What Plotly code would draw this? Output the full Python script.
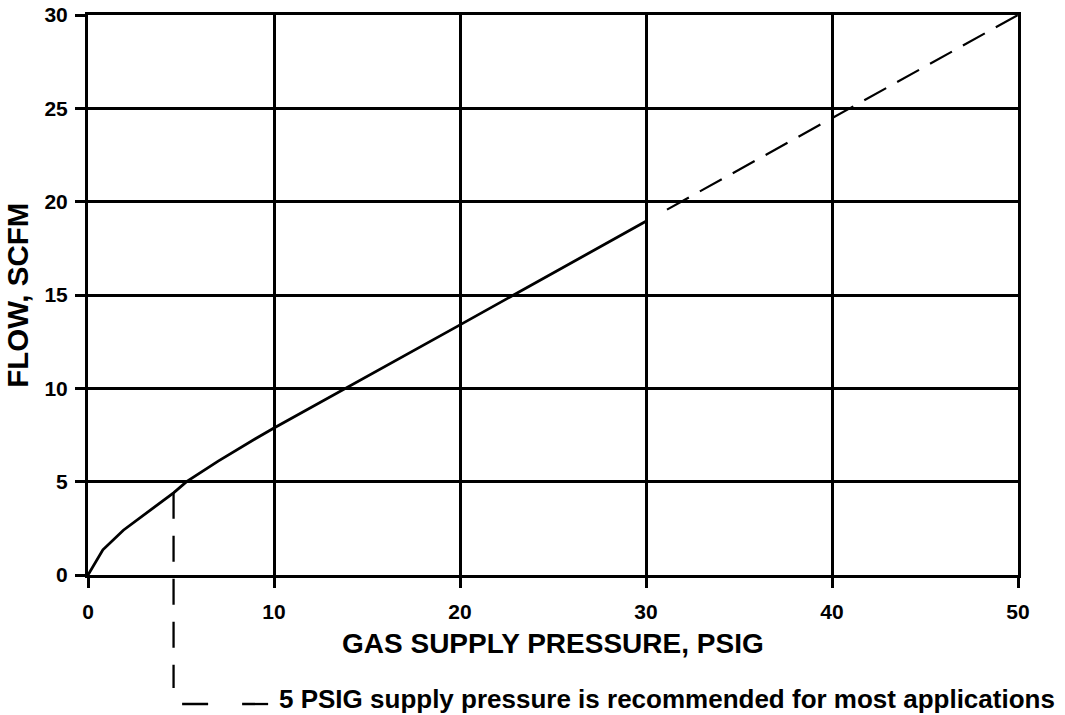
import numpy as np
import plotly.graph_objects as go

# ---- data ----
pressure_solid = [0, 0.8, 1.9, 3.0, 4.6, 5.3, 7.0, 9.0, 10.0, 20.0, 30.0]
flow_solid = [0, 1.35, 2.4, 3.2, 4.4, 5.0, 6.1, 7.3, 7.87, 13.4, 18.95]
pressure_dashed = [30.0, 50.0]
flow_dashed = [18.95, 30.0]
leader_pressure = 4.6  # recommended supply-pressure marker (drawn position)
x_ticks = [0, 10, 20, 30, 40, 50]
y_ticks = [0, 5, 10, 15, 20, 25, 30]
x_title = "GAS SUPPLY PRESSURE, PSIG"
y_title = "FLOW, SCFM"
note_text = "5 PSIG supply pressure is recommended for most applications"

X_RANGE = [0, 50]
Y_RANGE = [0, 30]
FONT = "Liberation Sans, Arial, sans-serif"

# dash style of the extrapolated part: a leading gap, then 11 dashes
ext_dash = "0px,24px," + ",".join(["25px,12.6px"] * 10) + ",25px,200px"

fig = go.Figure()
fig.add_trace(go.Scatter(x=pressure_solid, y=flow_solid, mode="lines",
                         line=dict(color="black", width=2.8), hoverinfo="skip",
                         showlegend=False))
fig.add_trace(go.Scatter(x=pressure_dashed, y=flow_dashed, mode="lines",
                         line=dict(color="black", width=2.2, dash=ext_dash),
                         hoverinfo="skip", showlegend=False))

leader_top = float(np.interp(leader_pressure, pressure_solid, flow_solid))
leader_top_paper = (leader_top - Y_RANGE[0]) / (Y_RANGE[1] - Y_RANGE[0])

shapes = [
    # vertical dashed leader from curve down below the axis
    dict(type="line", xref="x", yref="paper", x0=leader_pressure, x1=leader_pressure,
         y0=leader_top_paper, y1=-0.2018,
         line=dict(color="black", width=2.3, dash="26px,17px")),
    # horizontal dashes towards the note
    dict(type="line", xref="x", yref="paper", x0=leader_pressure + 0.46, x1=leader_pressure + 5.1,
         y0=-0.2304, y1=-0.2304,
         line=dict(color="black", width=2.3, dash="26px,34px")),
]

annotations = [
    dict(text=x_title, xref="paper", yref="paper", x=0.5, y=-0.123,
         xanchor="center", yanchor="middle", showarrow=False,
         font=dict(family=FONT, size=28, color="black", weight="bold")),
    dict(text=y_title, xref="paper", yref="paper", x=-0.0765, y=0.5, textangle=-90,
         xanchor="center", yanchor="middle", showarrow=False,
         font=dict(family=FONT, size=29.5, color="black", weight="bold")),
    dict(text=note_text, xref="paper", yref="paper", x=0.2032, y=-0.2214,
         xanchor="left", yanchor="middle", showarrow=False,
         font=dict(family=FONT, size=26, color="black", weight="bold")),
]

axis_common = dict(showgrid=True, gridcolor="black", gridwidth=3,
                   showline=True, linecolor="black", linewidth=3, mirror=True,
                   zeroline=False, ticks="outside", ticklen=10, tickwidth=2.5,
                   tickcolor="black", automargin=False,
                   tickfont=dict(family=FONT, size=21, color="black", weight="bold"))

fig.update_xaxes(range=X_RANGE, tickvals=x_ticks, ticktext=[str(v) for v in x_ticks],
                 ticklabelstandoff=6, **axis_common)
fig.update_yaxes(range=Y_RANGE, tickvals=y_ticks, ticktext=[str(v) for v in y_ticks],
                 ticklabelstandoff=3, **axis_common)

fig.update_layout(width=1065, height=715,
                  margin=dict(l=88, r=47, t=15, b=140),
                  plot_bgcolor="white", paper_bgcolor="white",
                  shapes=shapes, annotations=annotations,
                  showlegend=False)

fig.write_html("out.html", config={"displayModeBar": False},
               post_script="document.body.style.margin='0';document.body.style.overflow='hidden';")
